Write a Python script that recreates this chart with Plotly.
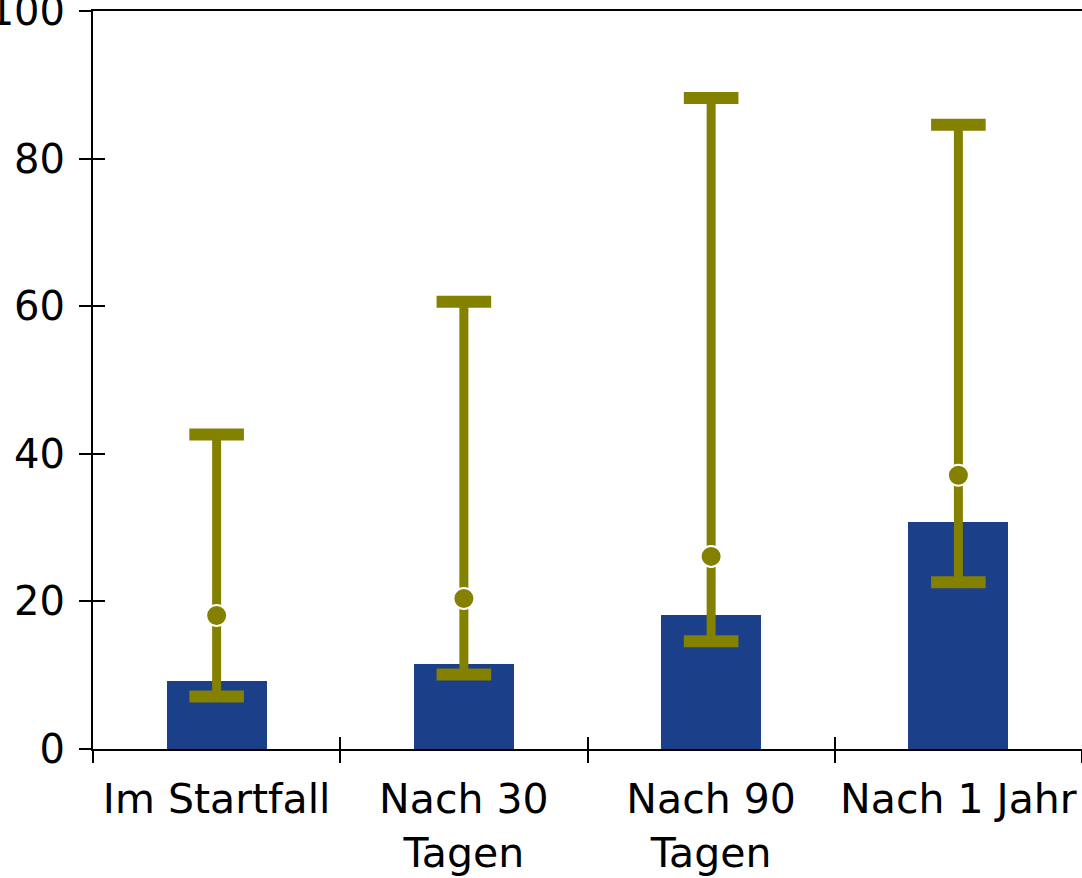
import plotly.graph_objects as go

categories = ["Im Startfall", "Nach 30<br>Tagen", "Nach 90<br>Tagen", "Nach 1 Jahr"]
bar_values = [9.2, 11.5, 18.1, 30.7]
point_values = [18.1, 20.4, 26.1, 37.1]
upper_values = [42.6, 60.6, 88.2, 84.6]
lower_values = [7.1, 10.1, 14.6, 22.6]
y_ticks = [0, 20, 40, 60, 80, 100]

BLUE = "#1B3F89"
OLIVE = "#848000"
FONT = "DejaVu Sans"

xpos = list(range(len(categories)))
bounds = [i - 0.5 for i in range(len(categories) + 1)]

fig = go.Figure()
fig.add_trace(go.Bar(x=xpos, y=bar_values, width=0.405, marker=dict(color=BLUE, line=dict(width=0)),
                     showlegend=False, hoverinfo="skip"))
# caps
fig.add_trace(go.Scatter(x=xpos + xpos, y=upper_values + lower_values, mode="markers",
                         marker=dict(symbol="line-ew", size=39, color=OLIVE, line=dict(color=OLIVE, width=12)),
                         showlegend=False, hoverinfo="skip"))
# stems + points
fig.add_trace(go.Scatter(x=xpos, y=point_values, mode="markers",
                         error_y=dict(type="data", symmetric=False,
                                      array=[u - p for u, p in zip(upper_values, point_values)],
                                      arrayminus=[p - l for p, l in zip(point_values, lower_values)],
                                      color=OLIVE, thickness=9, width=0),
                         marker=dict(symbol="circle", size=21, color=OLIVE, line=dict(color="white", width=2)),
                         showlegend=False, hoverinfo="skip"))
# empty traces that only register the overlay axes (used for the inner half of crossing ticks)
for xa, ya in [("x2", "y"), ("x3", "y"), ("x", "y2")]:
    fig.add_trace(go.Scatter(x=[None], y=[None], xaxis=xa, yaxis=ya, mode="markers",
                             showlegend=False, hoverinfo="skip"))

axis_line = dict(showline=True, linecolor="black", linewidth=2, showgrid=False, zeroline=False,
                 automargin=False)
plain = dict(showline=False, showgrid=False, zeroline=False, showticklabels=False, automargin=False,
             tickwidth=2, tickcolor="black")

fig.update_layout(
    width=1082, height=878,
    margin=dict(l=93, r=0, t=11, b=129),
    paper_bgcolor="white", plot_bgcolor="white",
    font=dict(family=FONT, size=40, color="black"),
    bargap=0,
    xaxis=dict(range=[-0.5, 3.5], tickvals=xpos, ticktext=categories, ticks="",
               tickfont=dict(size=41), ticklabelstandoff=13,
               mirror=True, **axis_line),
    yaxis=dict(range=[0, 100.001], tickvals=y_ticks, ticks="outside", ticklen=12, tickwidth=2,
               tickcolor="black", mirror=True, ticklabeloverflow="allow", ticklabelstandoff=6,
               **axis_line),
    xaxis2=dict(overlaying="x", anchor="y", side="bottom", range=[-0.5, 3.5], tickvals=bounds,
                ticks="outside", ticklen=13, **plain),
    xaxis3=dict(overlaying="x", anchor="y", side="bottom", range=[-0.5, 3.5], tickvals=bounds,
                ticks="inside", ticklen=12, **plain),
    yaxis2=dict(overlaying="y", anchor="x", side="left", range=[0, 100.001], tickvals=y_ticks,
                ticks="inside", ticklen=12, **plain),
)

fig.write_html("out.html", config={"displayModeBar": False},
               post_script="document.body.style.margin='0';document.body.style.overflow='hidden';")
